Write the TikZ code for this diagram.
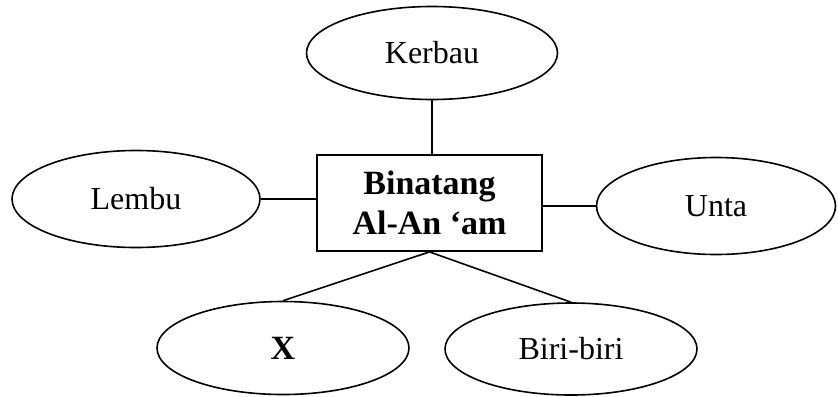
\documentclass[tikz,border=0pt]{standalone}
\usepackage{fontspec}
\setmainfont{Liberation Serif}
\usepackage{tikz}
\usetikzlibrary{shapes.geometric}
\tikzstyle{animal} = [ellipse, draw=black, line width=0.8pt, inner sep=0pt, text centered, font=\fontsize{16}{19}\selectfont]
\tikzstyle{group} = [rectangle, draw=black, line width=0.9pt, inner sep=0pt, minimum width=112.5pt, minimum height=48pt, align=center, font=\fontsize{17}{20}\selectfont\bfseries]
\tikzstyle{link} = [line width=0.8pt]

\begin{document}
\begin{tikzpicture}[x=0.5pt, y=-0.5pt]
	\useasboundingbox (0,0) rectangle (838,396);
	\node(binatang) [group] at (429.5,203) {Binatang\\Al-An `am};
	\node(kerbau) [animal, minimum width=125.5pt, minimum height=46.5pt] at (432,53) {Kerbau};
	\node(lembu) [animal, minimum width=124pt, minimum height=48.5pt] at (136,199) {Lembu};
	\node(unta) [animal, minimum width=119.5pt, minimum height=48.5pt] at (716,206) {Unta};
	\node(x) [animal, minimum width=126pt, minimum height=46.5pt, font=\fontsize{17}{20}\selectfont\bfseries] at (283,348) {X};
	\node(biri) [animal, minimum width=126pt, minimum height=46pt] at (571,349) {Biri-biri};

	\draw[link] (kerbau.south) -- (kerbau.south |- binatang.north);
	\draw[link] (lembu.east) -- (lembu.east -| binatang.west);
	\draw[link] (unta.west -| binatang.east) -- (unta.west);
	\draw[link] (binatang.south) -- (x.north);
	\draw[link] (binatang.south) -- (biri.north);
\end{tikzpicture}
\end{document}
